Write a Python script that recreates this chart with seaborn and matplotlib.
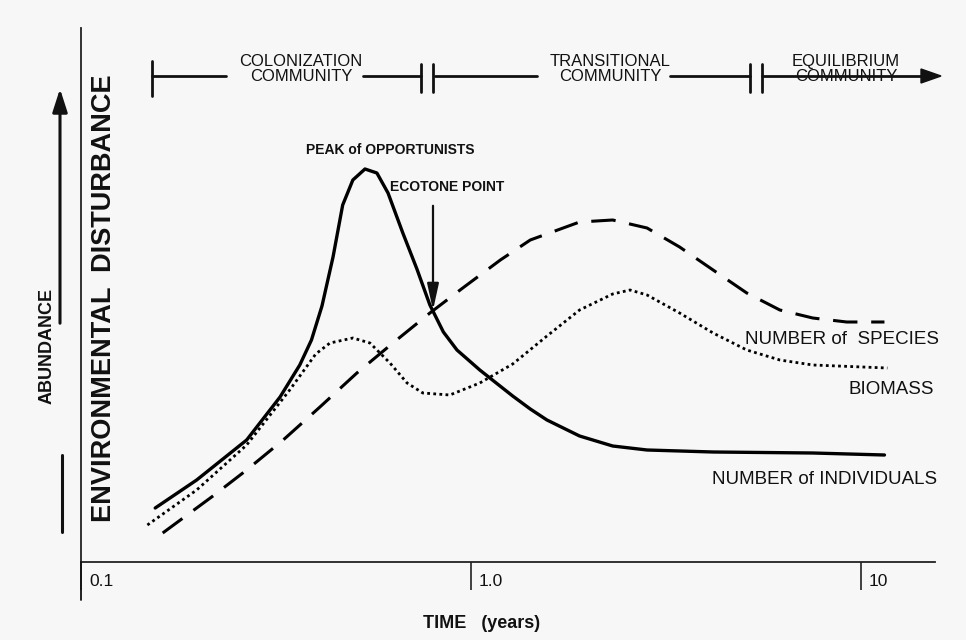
import numpy as np
import pandas as pd
import seaborn as sns
import matplotlib.pyplot as plt
from matplotlib.patches import Polygon
from matplotlib import font_manager

# time in years (log axis), abundance in arbitrary units
indiv_t = [0.155, 0.198, 0.266, 0.324, 0.364, 0.390, 0.415, 0.443, 0.469, 0.498, 0.535, 0.574,
           0.613, 0.669, 0.727, 0.785, 0.85, 0.921, 1.054, 1.17, 1.28, 1.42, 1.567, 1.90, 2.31,
           2.83, 4.18, 7.53, 11.5]
indiv_v = [54, 82, 122, 165, 197, 222, 256, 305, 357, 382, 393, 389,
           369, 329, 293, 257, 230, 212, 192, 178, 166, 153, 142, 126, 116,
           112, 110, 109, 107]

species_t = [0.162, 0.218, 0.266, 0.330, 0.410, 0.510, 0.631, 0.785, 0.953, 1.19, 1.42,
             1.90, 2.31, 2.83, 3.43, 4.18, 5.10, 6.20, 7.53, 9.20, 11.5]
species_v = [29, 66, 92, 122, 155, 189, 219, 249, 274, 302, 322,
             340, 342, 334, 315, 292, 269, 252, 244, 240, 240]

biomass_t = [0.148, 0.198, 0.266, 0.343, 0.400, 0.435, 0.498, 0.551, 0.620, 0.686, 0.753, 0.883,
             1.054, 1.28, 1.567, 1.90, 2.31, 2.56, 2.83, 3.43, 4.18, 5.10, 6.20, 7.53, 11.7]
biomass_v = [37, 72, 117, 172, 208, 219, 224, 219, 199, 179, 169, 167,
             179, 198, 226, 252, 268, 272, 267, 249, 229, 212, 202, 197, 194]

x_ticks = [0.1, 1.0, 10]
x_tick_labels = ['0.1', '1.0', '10']

sns.set_style('white')
avail = {f.name for f in font_manager.fontManager.ttflist}
narrow = 'Liberation Sans Narrow' if 'Liberation Sans Narrow' in avail else 'Liberation Sans'
plt.rcParams['font.family'] = [narrow, 'DejaVu Sans']

bg = '#f7f7f7'
fig = plt.figure(figsize=(9.66, 6.4), dpi=100, facecolor=bg)

ax = fig.add_axes([81 / 966, 78 / 640, 854 / 966, 534 / 640])
ax.set_facecolor(bg)
sns.lineplot(x=indiv_t, y=indiv_v, color='black', lw=2.4, ax=ax)
sns.lineplot(x=species_t, y=species_v, color='black', lw=2.2, linestyle=(0, (8, 4.5)), ax=ax)
sns.lineplot(x=biomass_t, y=biomass_v, color='black', lw=2.0, linestyle=(0, (1, 1.2)), ax=ax)
ax.set_xscale('log')
ax.set_xlim(0.1, 15.5)
ax.set_ylim(0, 534)
ax.set_yticks([])
ax.set_xticks(x_ticks)
ax.set_xticklabels([])
ax.minorticks_off()
ax.tick_params(axis='x', bottom=True, direction='out', length=20, width=1.2, color='#222222')
for s in ['top', 'right']:
    ax.spines[s].set_visible(False)
for s in ['left', 'bottom']:
    ax.spines[s].set_linewidth(1.3)
    ax.spines[s].set_color('#222222')
ax.set_xlabel('')
ax.set_ylabel('')

# overlay in pixel coordinates for the annotations
ov = fig.add_axes([0, 0, 1, 1], facecolor='none')
ov.set_xlim(0, 966)
ov.set_ylim(640, 0)
ov.axis('off')

k = '#111111'
# y axis extension below the x axis
ov.plot([81, 81], [562, 600], color=k, lw=1.3)

for t, lab in zip(x_ticks, x_tick_labels):
    px = 81 + 390 * (np.log10(t) + 1)
    ov.text(px + 8, 581, lab, fontsize=12.5, ha='left', va='center', color=k)

ov.text(482, 623, 'TIME   (years)', fontsize=13, fontweight='bold', ha='center', va='center', color=k)

# phase bar
yb = 76
for x0, x1 in [(152, 226), (363, 421), (435, 537), (670, 750), (762, 925)]:
    ov.plot([x0, x1], [yb, yb], color=k, lw=2)
for xb, y0, y1 in [(152, 61, 96), (421, 64, 92), (433, 64, 92), (750, 64, 92), (762, 64, 92)]:
    ov.plot([xb, xb], [y0, y1], color=k, lw=2)
ov.add_patch(Polygon([[921, yb - 7], [941, yb], [921, yb + 7]], closed=True, color=k))
ov.text(301, 69, 'COLONIZATION\nCOMMUNITY', fontsize=12, ha='center', va='center', linespacing=1.0, color=k)
ov.text(610, 69, 'TRANSITIONAL\nCOMMUNITY', fontsize=12, ha='center', va='center', linespacing=1.0, color=k)
ov.text(846, 69, 'EQUILIBRIUM\nCOMMUNITY', fontsize=12, ha='center', va='center', linespacing=1.0, color=k)

# left side arrow and labels
ov.annotate('', xy=(60, 86), xytext=(60, 326),
            arrowprops=dict(arrowstyle='-|>,head_length=1.4,head_width=0.45', color=k, lw=2.2))
ov.plot([62, 62], [455, 532], color=k, lw=2.2)
ov.text(47, 346, 'ABUNDANCE', rotation=90, fontsize=13, fontweight='bold', ha='center', va='center', color=k)
ov.text(104, 298, 'ENVIRONMENTAL  DISTURBANCE', rotation=90, fontsize=19.5, fontweight='bold',
        ha='center', va='center', color=k)

# annotations on curves
ov.text(306, 150, 'PEAK of OPPORTUNISTS', fontsize=10, fontweight='bold', ha='left', va='center', color=k)
ov.text(390, 187, 'ECOTONE POINT', fontsize=10, fontweight='bold', ha='left', va='center', color=k)
ov.annotate('', xy=(433, 313), xytext=(433, 203),
            arrowprops=dict(arrowstyle='-|>,head_length=1.6,head_width=0.35', color=k, lw=1.6))

ov.text(745, 339, 'NUMBER of  SPECIES', fontsize=13.5, ha='left', va='center', color=k)
ov.text(848, 389, 'BIOMASS', fontsize=13.5, ha='left', va='center', color=k)
ov.text(712, 479, 'NUMBER of INDIVIDUALS', fontsize=13.5, ha='left', va='center', color=k)

fig.savefig('out.png', dpi=100, facecolor=bg)
